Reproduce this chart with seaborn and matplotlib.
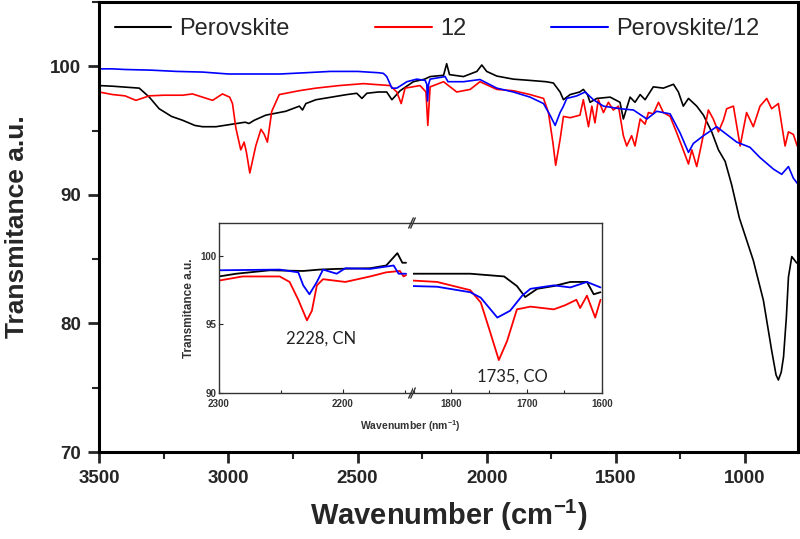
import seaborn as sns
import matplotlib.pyplot as plt
from matplotlib.ticker import MultipleLocator

# ---- main spectra (wavenumber cm-1, transmittance) ----
perov_x = [3500, 3448, 3345, 3306, 3268, 3220, 3177, 3130, 3100, 3048, 2984, 2935, 2920,
           2900, 2855, 2778, 2725, 2713, 2700, 2661, 2571, 2541, 2503, 2483, 2464, 2420,
           2387, 2367, 2335, 2284, 2240, 2219, 2167, 2155, 2144, 2090, 2038, 2019, 2000,
           1961, 1897, 1832, 1770, 1742, 1716, 1703, 1677, 1640, 1626, 1610, 1600, 1574,
           1522, 1484, 1471, 1445, 1426, 1406, 1387, 1355, 1316, 1277, 1258, 1239, 1219,
           1187, 1161, 1129, 1103, 1077, 1052, 1022, 968, 929, 897, 880, 871, 860, 851,
           840, 832, 819, 800]
perov_y = [98.5, 98.45, 98.3, 97.6, 96.7, 96.1, 95.8, 95.4, 95.3, 95.3, 95.5, 95.65, 95.55,
           95.8, 96.2, 96.5, 96.9, 96.6, 97.1, 97.4, 97.7, 97.8, 97.9, 97.5, 97.9, 98.0,
           98.0, 97.4, 98.1, 98.8, 99.0, 99.2, 99.3, 100.2, 99.35, 99.2, 99.6, 100.1, 99.6,
           99.24, 99.0, 98.9, 98.8, 98.7, 98.0, 97.4, 97.8, 98.0, 98.2, 97.8, 97.2, 97.5,
           97.6, 97.2, 95.9, 97.6, 97.2, 97.8, 97.4, 98.4, 98.3, 98.6, 98.0, 96.9, 97.5,
           96.9, 96.2, 94.9, 93.5, 92.6, 90.8, 88.2, 84.9, 81.8, 77.9, 76.0, 75.6, 76.2, 77.4,
           80.5, 83.6, 85.2, 84.7]

c12_x = [3500, 3448, 3400, 3358, 3306, 3250, 3177, 3139, 3100, 3061, 3023, 2995, 2984,
         2971, 2952, 2939, 2930, 2917, 2894, 2874, 2861, 2849, 2832, 2803, 2726, 2661,
         2571, 2477, 2374, 2348, 2331, 2316, 2258, 2235, 2228, 2219, 2167, 2116, 2064,
         2026, 1961, 1897, 1832, 1780, 1761, 1744, 1733, 1716, 1703, 1677, 1639, 1626,
         1606, 1593, 1581, 1568, 1548, 1529, 1510, 1490, 1471, 1458, 1439, 1426, 1406,
         1387, 1374, 1355, 1335, 1316, 1290, 1264, 1245, 1219, 1206, 1187, 1168, 1142,
         1123, 1103, 1084, 1071, 1045, 1019, 994, 968, 942, 916, 897, 871, 845, 832, 813, 798]
c12_y = [98.0, 97.8, 97.7, 97.35, 97.7, 97.75, 97.75, 97.85, 97.6, 97.35, 97.85, 97.6, 97.1,
         95.2, 93.5, 94.1, 93.3, 91.7, 93.8, 95.1, 94.7, 94.1, 96.5, 97.8, 98.1, 98.3,
         98.5, 98.65, 98.5, 98.0, 97.1, 98.3, 98.5, 98.0, 95.4, 98.4, 98.8, 98.0, 98.2,
         98.8, 98.2, 98.1, 97.8, 97.5, 96.4, 94.1, 92.3, 94.3, 96.1, 96.0, 96.2, 97.4,
         95.3, 96.9, 95.6, 97.4, 96.4, 97.2, 96.6, 96.9, 94.6, 93.8, 94.6, 93.8, 95.9,
         95.5, 96.4, 96.3, 97.2, 96.4, 96.1, 94.8, 93.8, 92.4, 93.5, 92.2, 94.0, 96.6,
         95.9, 94.9, 95.8, 96.7, 96.9, 93.8, 96.4, 95.3, 96.9, 97.5, 96.7, 97.1, 93.8, 94.9,
         94.7, 93.8]

mix_x = [3500, 3450, 3400, 3300, 3200, 3100, 3000, 2900, 2800, 2700, 2606, 2500, 2420,
         2400, 2387, 2367, 2348, 2309, 2271, 2238, 2232, 2229, 2225, 2219, 2161, 2150,
         2090, 2026, 1961, 1897, 1832, 1780, 1755, 1735, 1716, 1703, 1690, 1651, 1619,
         1587, 1548, 1484, 1432, 1380, 1342, 1290, 1251, 1219, 1200, 1161, 1110, 1071,
         1032, 981, 942, 890, 858, 832, 813, 798]
mix_y = [99.8, 99.8, 99.75, 99.7, 99.6, 99.55, 99.4, 99.4, 99.4, 99.5, 99.6, 99.6, 99.5,
         99.45, 99.2, 98.3, 98.3, 98.8, 99.0, 98.9, 98.6, 97.3, 98.6, 99.0, 99.2, 98.8,
         98.8, 98.97, 98.3, 98.0, 97.6, 97.1, 96.2, 95.4, 96.4, 96.9, 97.5, 97.7, 98.0,
         97.4, 96.9, 96.7, 96.6, 95.9, 96.5, 96.3, 94.8, 93.3, 94.0, 94.6, 95.3, 94.7,
         94.1, 93.7, 92.9, 92.0, 91.6, 92.2, 91.3, 90.9]

# ---- inset, two windows of the broken axis ----
ins_l_black_x = [2300, 2286, 2259, 2232, 2219, 2205, 2178, 2165, 2159, 2156, 2152, 2149]
ins_l_black_y = [98.5, 98.7, 98.95, 98.9, 99.0, 99.05, 99.1, 99.3, 99.9, 100.2, 99.5, 99.5]
ins_l_red_x = [2300, 2281, 2251, 2243, 2236, 2229, 2225, 2221, 2216, 2198, 2178, 2165, 2154, 2151, 2149]
ins_l_red_y = [98.2, 98.5, 98.5, 98.1, 96.8, 95.3, 96.0, 97.85, 98.3, 98.1, 98.5, 98.8, 98.9, 98.5, 98.6]
ins_l_blue_x = [2300, 2251, 2236, 2232, 2227, 2221, 2216, 2205, 2198, 2178, 2159, 2155, 2149]
ins_l_blue_y = [98.95, 99.0, 98.8, 97.85, 97.2, 98.1, 99.0, 98.7, 99.1, 99.05, 99.3, 98.7, 98.7]

ins_r_black_x = [1851, 1775, 1730, 1713, 1702, 1686, 1664, 1642, 1620, 1611, 1602]
ins_r_black_y = [98.7, 98.7, 98.5, 97.8, 97.0, 97.6, 97.8, 98.1, 98.1, 97.2, 97.35]
ins_r_red_x = [1851, 1819, 1775, 1761, 1750, 1737, 1726, 1713, 1695, 1664, 1649, 1634, 1629, 1620, 1609, 1602]
ins_r_red_y = [98.2, 98.1, 97.5, 96.6, 94.7, 92.4, 93.8, 96.1, 96.3, 96.1, 96.4, 96.8, 96.2, 97.1, 95.5, 96.8]
ins_r_blue_x = [1851, 1819, 1775, 1761, 1739, 1722, 1706, 1695, 1664, 1642, 1620, 1602]
ins_r_blue_y = [97.8, 97.75, 97.35, 96.95, 95.5, 96.0, 97.1, 97.6, 97.85, 97.7, 98.1, 97.7]

labels = ['Perovskite', '12', 'Perovskite/12']
colors = ['black', 'red', 'blue']

sns.set_style('ticks')
plt.rcParams['font.family'] = ['Liberation Sans', 'DejaVu Sans']
plt.rcParams['mathtext.fontset'] = 'custom'
plt.rcParams['mathtext.rm'] = 'Liberation Sans:bold'
plt.rcParams['mathtext.it'] = 'Liberation Sans:bold'

fig = plt.figure(figsize=(8, 5.39), dpi=100)
ax = fig.add_axes([0.124, 0.1614, 0.8735, 0.8349])

for xs, ys, lab, col in zip([perov_x, c12_x, mix_x], [perov_y, c12_y, mix_y], labels, colors):
    sns.lineplot(x=xs, y=ys, color=col, lw=1.2, label=lab, sort=False, ax=ax)

ax.set_xlim(3500, 795)
ax.set_ylim(70, 105)
ax.xaxis.set_major_locator(MultipleLocator(500))
ax.xaxis.set_minor_locator(MultipleLocator(250))
ax.yaxis.set_major_locator(MultipleLocator(10))
ax.yaxis.set_minor_locator(MultipleLocator(5))
ax.tick_params(which='major', direction='out', length=8, width=2, labelsize=13.5, pad=5)
ax.tick_params(which='minor', direction='out', length=5, width=1.5)
for lbl in ax.get_xticklabels() + ax.get_yticklabels():
    lbl.set_fontweight('bold')
for sp in ax.spines.values():
    sp.set_linewidth(2.2)
    sp.set_color('black')

ax.set_xlabel('Wavenumber (cm$^{-1}$)', fontsize=21, fontweight='bold', labelpad=8)
ax.set_ylabel('Transmitance a.u.', fontsize=19, fontweight='bold', va='center')
ax.yaxis.set_label_coords(-0.117, 0.5)

leg = ax.legend(loc='center left', bbox_to_anchor=(0.022, 0.94), ncol=3, frameon=False,
                fontsize=17, handlelength=2.4, handletextpad=0.35, columnspacing=3.6,
                borderpad=0, borderaxespad=0)
for h in leg.get_lines():
    h.set_linewidth(1.5)

# ---- inset with broken x axis ----
axl = fig.add_axes([0.27375, 0.2709, 0.24, 0.3154])
axr = fig.add_axes([0.51625, 0.2709, 0.23625, 0.3154])
for a, xs_list, ys_list in [
        (axl, [ins_l_black_x, ins_l_red_x, ins_l_blue_x], [ins_l_black_y, ins_l_red_y, ins_l_blue_y]),
        (axr, [ins_r_black_x, ins_r_red_x, ins_r_blue_x], [ins_r_black_y, ins_r_red_y, ins_r_blue_y])]:
    for xs, ys, col in zip(xs_list, ys_list, colors):
        sns.lineplot(x=xs, y=ys, color=col, lw=1.3, sort=False, ax=a)
    a.set_ylim(90, 102.4)
    a.tick_params(which='both', direction='in', labelsize=7, width=0.8)
    a.tick_params(axis='x', pad=4)
    a.tick_params(axis='y', pad=2)
    a.tick_params(which='major', length=3)
    a.tick_params(which='minor', length=2)
    for sp in a.spines.values():
        sp.set_linewidth(1.0)
        sp.set_color('#333333')

axl.set_xlim(2300, 2145)
axl.xaxis.set_major_locator(MultipleLocator(100))
axl.xaxis.set_minor_locator(MultipleLocator(50))
axl.yaxis.set_major_locator(MultipleLocator(5))
axl.spines['right'].set_visible(False)

axr.set_xlim(1851, 1600)
axr.xaxis.set_major_locator(MultipleLocator(100))
axr.xaxis.set_minor_locator(MultipleLocator(50))
axr.spines['left'].set_visible(False)
axr.tick_params(axis='y', left=False, labelleft=False)

for a in (axl, axr):
    for lbl in a.get_xticklabels() + a.get_yticklabels():
        lbl.set_fontweight('bold')
        lbl.set_color('#333333')

# break marks
d = 0.012
for a, x0 in [(axl, 1.0), (axr, 0.0)]:
    for y0 in (0, 1):
        a.plot([x0 - d, x0 + d], [y0 - 0.03, y0 + 0.03], transform=a.transAxes,
               color='#333333', lw=1.0, clip_on=False)

axl.text(2218, 94.0, '2228, CN', fontsize=12, family=['Lato', 'DejaVu Sans'],
         ha='center', va='center', color='#222222')
axr.text(1719, 91.2, '1735, CO', fontsize=12, family=['Lato', 'DejaVu Sans'],
         ha='center', va='center', color='#222222')
fig.text(189 / 800, 1 - 308 / 539, 'Transmitance a.u.', rotation=90, fontsize=8.5,
         fontweight='bold', ha='center', va='center', color='#333333')
fig.text(410 / 800, 1 - 426 / 539, 'Wavenumber (nm$^{-1}$)', fontsize=7.5, fontweight='bold',
         ha='center', va='center', color='#333333')

fig.savefig('out.png', dpi=100)
